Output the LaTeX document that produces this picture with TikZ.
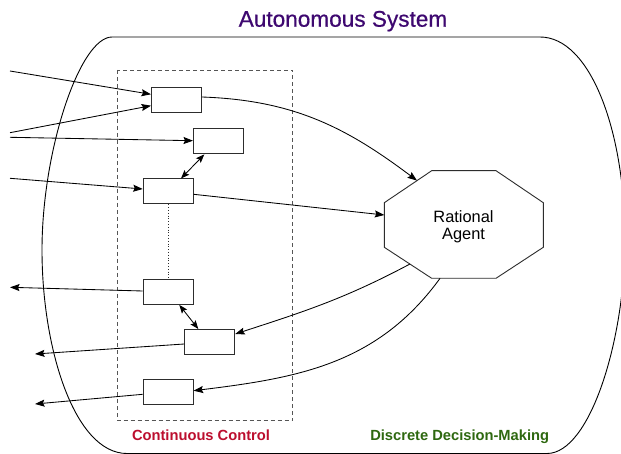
\documentclass[tikz,border=0pt]{standalone}
\usepackage{fontspec}
\setmainfont{Liberation Sans}
\newfontfamily\headfont{Liberation Sans}[BoldFont={Liberation Sans}, BoldFeatures={FakeBold=0.6}]
\usetikzlibrary{arrows.meta,calc}

\definecolor{titlepurple}{RGB}{62,8,112}
\definecolor{ctrlred}{RGB}{188,14,46}
\definecolor{decgreen}{RGB}{46,104,16}
\definecolor{boxline}{RGB}{45,45,45}
\definecolor{dashgray}{RGB}{85,85,85}

\tikzset{
  unit/.style={draw=boxline, line width=0.9pt, fill=white, minimum width=50pt,
    minimum height=25pt, inner sep=0pt, anchor=north west},
  tip/.tip={Stealth[length=9.5pt,width=7pt,inset=1.5pt]},
  smalltip/.tip={Stealth[length=8.5pt,width=6.5pt,inset=1.5pt]},
  flow/.style={line width=0.85pt, -tip},
  both/.style={line width=0.85pt, smalltip-smalltip},
  outline/.style={line width=0.9pt},
  caption/.style={font=\bfseries\fontsize{14.7}{17}\selectfont, anchor=base},
}

\begin{document}
\begin{tikzpicture}[x=1pt, y=-1pt]
  \useasboundingbox (0,0) rectangle (621,454);
  \fill[white] (0,0) rectangle (621,454);

  % system boundary, cut by the page edge
  \begin{scope}
    \clip (0,0) rectangle (621,454);
    \draw[outline] (112,37) -- (540,37)
      .. controls (590,37) and (625,130) .. (625,240)
      .. controls (625,340) and (590,453.5) .. (547,453.5)
      -- (127,453.5)
      .. controls (75,453.5) and (42,350) .. (42,250)
      .. controls (42,150) and (80,37) .. (112,37) -- cycle;
  \end{scope}

  \node[font=\headfont\bfseries\fontsize{22.6}{26}\selectfont, text=titlepurple, anchor=base]
    (title) at (343,26.7) {Autonomous System};

  % continuous control region
  \draw[dashgray, line width=0.9pt, dash pattern=on 4pt off 3pt]
    (117.3,70) rectangle (292.7,420.7);

  \node[unit] (u1) at (151,87) {};
  \node[unit] (u2) at (193,128.5) {};
  \node[unit] (u3) at (142.7,178.5) {};
  \node[unit] (u4) at (142.7,279) {};
  \node[unit] (u5) at (184.3,329) {};
  \node[unit] (u6) at (142.7,379) {};

  % rational agent (stretched octagon)
  \coordinate (a1) at (431.7,170.7);
  \coordinate (a2) at (496,170.7);
  \coordinate (a3) at (543.3,202.7);
  \coordinate (a4) at (543.3,247.3);
  \coordinate (a5) at (496,278.3);
  \coordinate (a6) at (431.7,278.3);
  \coordinate (a7) at (384.3,247.3);
  \coordinate (a8) at (384.3,202.7);
  \draw[outline, draw=boxline] (a1) -- (a2) -- (a3) -- (a4) -- (a5) -- (a6) -- (a7) -- (a8) -- cycle;
  \node[align=center, font=\fontsize{16.4}{16.7}\selectfont, inner sep=0pt]
    (agent) at (463.5,227) {Rational\\Agent};

  % free ends outside the system
  \coordinate (s1) at (10,71);
  \coordinate (s2) at (10,132.7);
  \coordinate (s3) at (10,137.3);
  \coordinate (s4) at (10,178.3);
  \coordinate (t1) at (10,287.3);
  \coordinate (t2) at (35,354);
  \coordinate (t3) at (35,404);

  % sensor inputs
  \draw[flow] (s1) -- (u1.west |- 0,94.3);
  \draw[flow] (s2) -- (u1.west |- 0,105.7);
  \draw[flow] (s3) -- (u2.west |- 0,140.7);
  \draw[flow] (s4) -- (u3.west |- 0,189);

  % actuator outputs
  \draw[flow] (u4.west |- 0,291) -- (t1);
  \draw[flow] (u5.west |- 0,344) -- (t2);
  \draw[flow] (u6.west |- 0,394.3) -- (t3);

  % links between controllers
  \draw[both] (u2.south -| 204.3,0) -- (u3.north -| 181,0);
  \draw[both] (u4.south -| 179.3,0) -- (u5.north -| 198.3,0);
  \draw[boxline, line width=0.8pt, dotted] (u3.south) -- (u4.north);

  % exchanges with the agent
  \draw[flow] (u1.east |- 0,97) to[out=-2, in=143] ($(a8)!0.69!(a1)$);
  \draw[flow] (u3.east |- 0,194.3) -- ($(a8)!0.276!(a7)$);
  \draw[flow] ($(a7)!0.54!(a6)$) to[out=208, in=18] (u5.east |- 0,334);
  \draw[flow] ($(a6)!0.13!(a5)$) to[out=234, in=7] (u6.east |- 0,390.7);

  \node[caption, text=ctrlred] (ctrl) at (201,440.7) {Continuous Control};
  \node[caption, text=decgreen] (dec) at (459.7,440.7) {Discrete Decision-Making};
\end{tikzpicture}
\end{document}
